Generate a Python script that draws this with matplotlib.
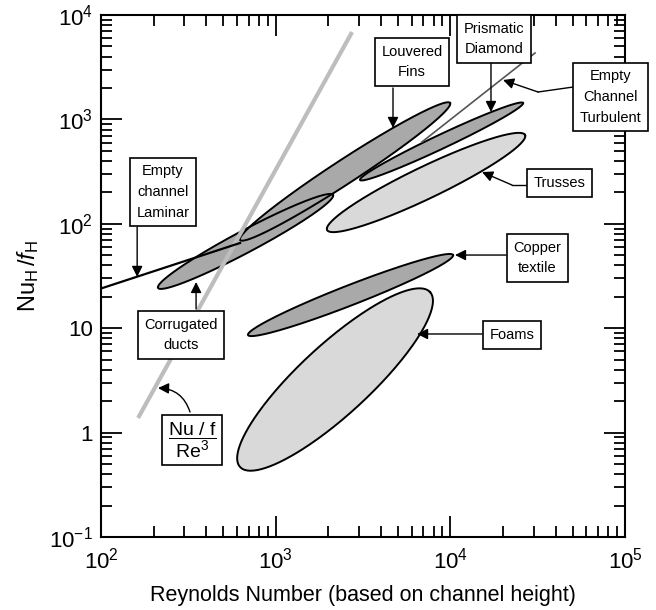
import numpy as np
import matplotlib
matplotlib.use("Agg")
import matplotlib.pyplot as plt
from matplotlib.ticker import FixedLocator, FixedFormatter, LogLocator, NullFormatter

plt.rcParams['font.family'] = ['Liberation Sans', 'DejaVu Sans']
plt.rcParams['mathtext.fontset'] = 'custom'
plt.rcParams['mathtext.rm'] = 'Liberation Sans'
plt.rcParams['mathtext.it'] = 'Liberation Sans:italic'
plt.rcParams['mathtext.bf'] = 'Liberation Sans:bold'

# ellipse regions: lower-left tip and upper-right tip (Re, Nu/f), thickness
regions = ['Foams', 'Copper textile', 'Trusses', 'Corrugated ducts',
           'Louvered fins', 'Prismatic diamond']
re_lo = [625, 694, 1967, 212, 625, 3037]
nf_lo = [0.468, 8.6, 87.2, 24.3, 70, 263]
re_hi = [7640, 10350, 26730, 2128, 9950, 26030]
nf_hi = [22.2, 50.2, 709, 189, 1436, 1436]
spread = [70, 20, 32, 22, 24, 14]
shade = ['light', 'dark', 'light', 'dark', 'dark', 'dark']

# reference lines
re_cube = [163, 2735]
nf_cube = [1.38, 6870]
re_lam = [100, 625]
nf_lam = [24.0, 65.5]
re_turb = [6870, 30500]
nf_turb = [608, 4330]

fills = {'light': '#d9d9d9', 'dark': '#a9a9a9'}

fig = plt.figure(figsize=(6.56, 6.10), dpi=100)
ax = fig.add_axes([0.154, 0.1197, 0.799, 0.8557])
ax.set_xscale('log')
ax.set_yscale('log')
ax.set_xlim(1e2, 1e5)
ax.set_ylim(1e-1, 1e4)

# pixels per decade so the ellipses keep their shape on the log axes
kx = 6.56 * 100 * 0.799 / 3
ky = 6.10 * 100 * 0.8557 / 5


def ellipse_xy(r1, n1, r2, n2, thick):
    p1 = np.array([np.log10(r1) * kx, np.log10(n1) * ky])
    p2 = np.array([np.log10(r2) * kx, np.log10(n2) * ky])
    c = (p1 + p2) / 2
    u = (p2 - p1) / 2
    n = np.array([-u[1], u[0]]) / np.linalg.norm(u) * thick / 2
    t = np.linspace(0, 2 * np.pi, 300)
    pts = c + np.outer(np.cos(t), u) + np.outer(np.sin(t), n)
    return 10 ** (pts[:, 0] / kx), 10 ** (pts[:, 1] / ky)


for i in range(len(regions)):
    ex, ey = ellipse_xy(re_lo[i], nf_lo[i], re_hi[i], nf_hi[i], spread[i])
    ax.fill(ex, ey, color=fills[shade[i]], lw=0, zorder=2)
    ax.plot(ex, ey, color='black', lw=1.4, zorder=3)

ax.plot(re_cube, nf_cube, color='#bdbdbd', lw=3, solid_capstyle='butt', zorder=4)
ax.plot(re_lam, nf_lam, color='black', lw=1.6, zorder=4)
ax.plot(re_turb, nf_turb, color='#555555', lw=1.2, zorder=4)

# labels
box = dict(boxstyle='square,pad=0.45', fc='white', ec='black', lw=1.2)
tkw = dict(fontsize=10.5, ha='center', va='center', linespacing=1.6,
           bbox=box, zorder=6)
ax.text(226, 202, 'Empty\nchannel\nLaminar', **tkw)
ax.text(6030, 3548, 'Louvered\nFins', **tkw)
ax.text(17770, 5890, 'Prismatic\nDiamond', **tkw)
ax.text(81950, 1639, 'Empty\nChannel\nTurbulent', clip_on=False, **tkw)
ax.text(42360, 246, 'Trusses', **tkw)
ax.text(31300, 47, 'Copper\ntextile', **tkw)
ax.text(22520, 8.6, 'Foams', **tkw)
ax.text(287, 8.6, 'Corrugated\nducts', **tkw)
ax.text(332, 0.85, r'$\dfrac{\mathrm{Nu\ /\ f}}{\mathrm{Re}^3}$', fontsize=14,
        ha='center', va='center',
        bbox=dict(boxstyle='square,pad=0.3', fc='white', ec='black', lw=1.2),
        zorder=6)

arr = dict(arrowstyle='-|>', color='black', lw=1.0, mutation_scale=16,
           shrinkA=0, shrinkB=0)


def arrow(start, tip, **kw):
    ax.annotate('', xy=tip, xytext=start, arrowprops=dict(arr, **kw), zorder=5)


arrow((161, 93), (161, 31))
arrow((4690, 2000), (4690, 828))
arrow((17060, 3467), (17060, 1178))
ax.plot([50330, 31720], [2042, 1830], color='black', lw=1.0, zorder=5)
arrow((31720, 1830), (20000, 2384))
ax.plot([28180, 22520], [235, 235], color='black', lw=1.0, zorder=5)
arrow((22520, 235), (15170, 313))
arrow((20800, 50.2), (10620, 50.2))
arrow((15170, 8.8), (6440, 8.8))
arrow((350, 15.3), (350, 27.7))
arrow((323, 1.575), (212, 2.67), connectionstyle='arc3,rad=0.35')

# axes styling
for s in ax.spines.values():
    s.set_linewidth(1.5)
ax.xaxis.set_major_locator(FixedLocator([1e2, 1e3, 1e4, 1e5]))
ax.xaxis.set_major_formatter(FixedFormatter(['$10^2$', '$10^3$', '$10^4$', '$10^5$']))
ax.yaxis.set_major_locator(FixedLocator([1e-1, 1, 10, 1e2, 1e3, 1e4]))
ax.yaxis.set_major_formatter(FixedFormatter(['$10^{-1}$', '1', '10', '$10^2$',
                                             '$10^3$', '$10^4$']))
for a in (ax.xaxis, ax.yaxis):
    a.set_minor_locator(LogLocator(base=10, subs=np.arange(2, 10)))
    a.set_minor_formatter(NullFormatter())
ax.tick_params(which='both', direction='in', top=True, right=True, width=1.3)
ax.tick_params(which='major', length=15, labelsize=16, pad=6)
ax.tick_params(which='minor', length=8)
ax.tick_params(axis='x', which='major', pad=8)

ax.set_xlabel('Reynolds Number (based on channel height)', fontsize=15.5, labelpad=8)
ax.set_ylabel(r'$\mathrm{Nu_H}\,/\mathit{f}_\mathrm{H}$', fontsize=17, labelpad=6)

fig.savefig('out.png', dpi=100)
